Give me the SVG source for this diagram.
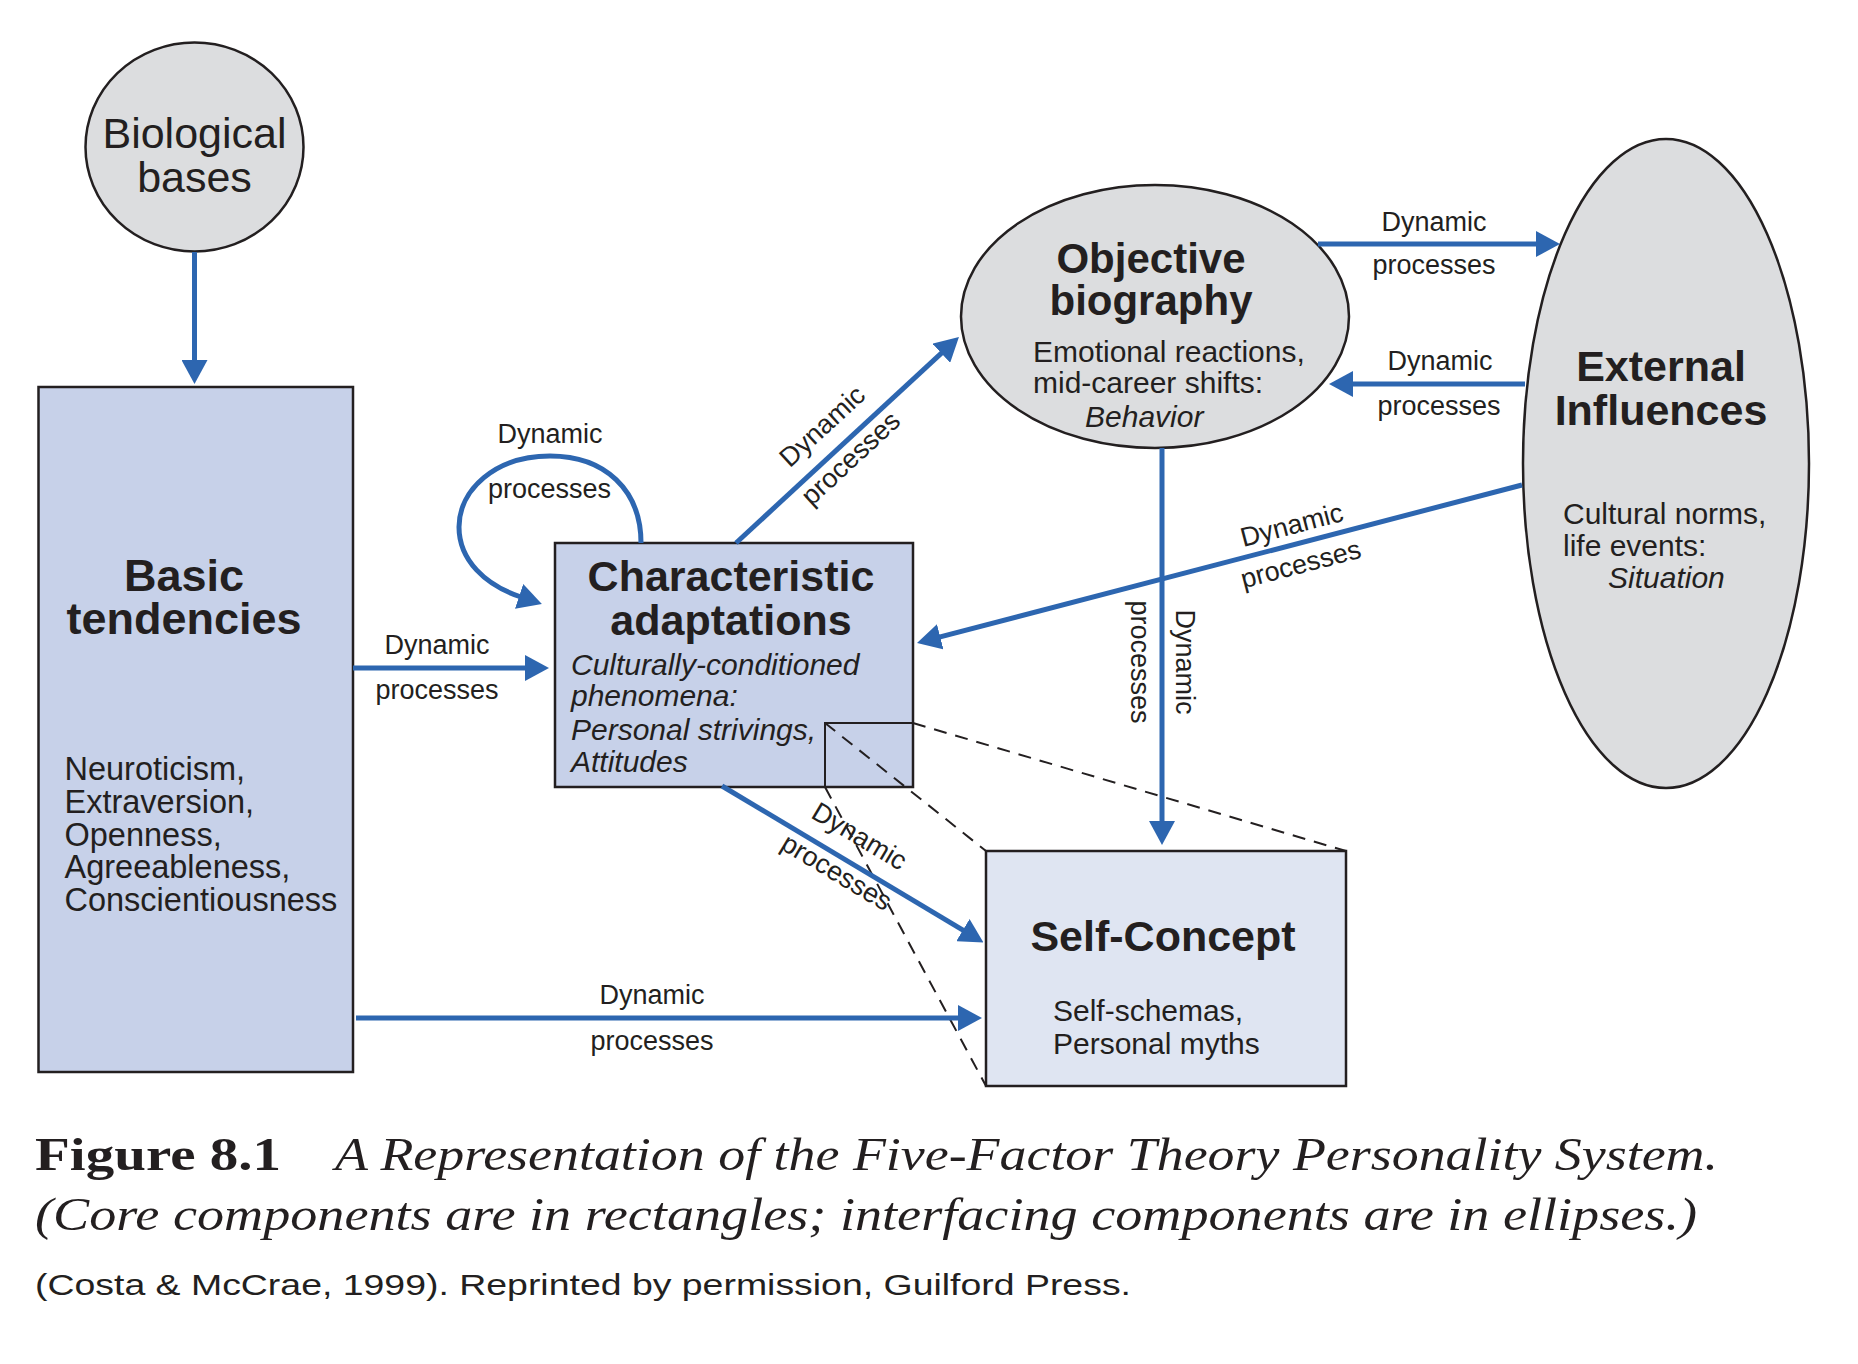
<svg xmlns="http://www.w3.org/2000/svg" width="1858" height="1364" viewBox="0 0 1858 1364">
<defs>
<marker id="ah" markerUnits="userSpaceOnUse" markerWidth="24" markerHeight="26" viewBox="0 0 24 26" refX="2" refY="13" orient="auto">
<path d="M0,0 L24,13 L0,26 Z" fill="#2d66b0"/>
</marker>
<style>
.conn{fill:none;stroke:#2d66b0;stroke-width:5;}
.arr{marker-end:url(#ah);}
.dash{fill:none;stroke:#231f20;stroke-width:2;stroke-dasharray:13 9;}
.ell{fill:#dcdddf;stroke:#231f20;stroke-width:2.5;}
.core{fill:#c7d1e9;stroke:#231f20;stroke-width:2.5;}
.self{fill:#dfe5f2;stroke:#231f20;stroke-width:2.5;}
text{font-family:"Liberation Sans",Arial,sans-serif;fill:#231f20;}
.title{font-weight:bold;text-anchor:middle;}
.lbl{font-size:27px;text-anchor:middle;}
.body{font-size:30px;}
.it{font-style:italic;}
.cap{font-family:"Liberation Serif","Times New Roman",serif;font-size:46px;}
</style>
</defs>
<rect width="1858" height="1364" fill="#ffffff"/>

<g id="biological-bases">
<ellipse class="ell" cx="194.5" cy="147" rx="109" ry="104.5"/>
<text class="title" style="font-weight:normal;font-size:43px"><tspan x="194.5" y="148">Biological</tspan><tspan x="194.5" y="192">bases</tspan></text>
</g>

<g id="basic-tendencies">
<rect class="core" x="38.5" y="387" width="314.5" height="685"/>
<text class="title" font-size="45"><tspan x="184" y="591">Basic</tspan><tspan x="184" y="634">tendencies</tspan></text>
<text font-size="32.5"><tspan x="64.5" y="780">Neuroticism,</tspan><tspan x="64.5" y="813">Extraversion,</tspan><tspan x="64.5" y="846">Openness,</tspan><tspan x="64.5" y="878">Agreeableness,</tspan><tspan x="64.5" y="911">Conscientiousness</tspan></text>
</g>

<g id="characteristic-adaptations">
<rect class="core" x="555" y="543" width="358" height="244"/>
<text class="title" font-size="43"><tspan x="731" y="591">Characteristic</tspan><tspan x="731" y="635">adaptations</tspan></text>
<text class="body it"><tspan x="571" y="675">Culturally-conditioned</tspan><tspan x="571" y="706">phenomena:</tspan><tspan x="571" y="740">Personal strivings,</tspan><tspan x="571" y="772">Attitudes</tspan></text>
<rect x="825" y="723" width="88" height="64" fill="none" stroke="#231f20" stroke-width="2"/>
</g>

<g id="objective-biography">
<ellipse class="ell" cx="1155" cy="316.5" rx="194" ry="131.5"/>
<text class="title" font-size="42"><tspan x="1151" y="273">Objective</tspan><tspan x="1151" y="315">biography</tspan></text>
<text class="body"><tspan x="1033" y="362">Emotional reactions,</tspan><tspan x="1033" y="393">mid-career shifts:</tspan><tspan class="it" x="1085" y="427">Behavior</tspan></text>
</g>

<g id="external-influences">
<ellipse class="ell" cx="1666" cy="463.5" rx="143" ry="324.5"/>
<text class="title" font-size="43"><tspan x="1661" y="381">External</tspan><tspan x="1661" y="425">Influences</tspan></text>
<text class="body" font-size="31"><tspan x="1563" y="524">Cultural norms,</tspan><tspan x="1563" y="556">life events:</tspan><tspan class="it" x="1608" y="588">Situation</tspan></text>
</g>

<g id="self-concept">
<rect class="self" x="986" y="851" width="360" height="235"/>
<text class="title" x="1163" y="951" font-size="43">Self-Concept</text>
<text class="body"><tspan x="1053" y="1021">Self-schemas,</tspan><tspan x="1053" y="1054">Personal myths</tspan></text>
</g>

<g id="connectors">
<line class="dash" x1="825" y1="723" x2="986" y2="851"/>
<line class="dash" x1="913" y1="723" x2="1346" y2="851"/>
<line class="dash" x1="825" y1="787" x2="986" y2="1086"/>

<path class="conn arr" d="M194.5,252 L194.5,362"/>
<path class="conn arr" d="M353,668 L527,668"/>
<path class="conn arr" d="M641,543 C641,490 605,456 550,456 C495,456 459,490 459,527 C459,560 485,585 521,597"/>
<path class="conn arr" d="M736,543 L942.8,351.9"/>
<path class="conn arr" d="M1318,244 L1538,244"/>
<path class="conn arr" d="M1525,384 L1351,384"/>
<path class="conn arr" d="M1522,485 L938.3,637.4"/>
<path class="conn arr" d="M1162,448 L1162,823"/>
<path class="conn arr" d="M722,786 L964.6,931.2"/>
<path class="conn arr" d="M356,1018 L960,1018"/>

<text class="lbl" x="437" y="654">Dynamic</text>
<text class="lbl" x="437" y="699">processes</text>

<text class="lbl" x="550" y="443">Dynamic</text>
<text class="lbl" x="549.5" y="498">processes</text>

<text class="lbl" transform="translate(823,427) rotate(-42.7)" x="0" y="8">Dynamic</text>
<text class="lbl" transform="translate(854,462) rotate(-42.7)" x="0" y="4">processes</text>

<text class="lbl" x="1434" y="231">Dynamic</text>
<text class="lbl" x="1434" y="274">processes</text>

<text class="lbl" x="1440" y="370">Dynamic</text>
<text class="lbl" x="1439" y="415">processes</text>

<text class="lbl" transform="translate(1292,526) rotate(-14.6)" x="0" y="8">Dynamic</text>
<text class="lbl" transform="translate(1302,569) rotate(-14.6)" x="0" y="4">processes</text>

<text class="lbl" transform="translate(1184,662) rotate(90)" x="0" y="8">Dynamic</text>
<text class="lbl" transform="translate(1135,662) rotate(90)" x="0" y="4">processes</text>

<text class="lbl" transform="translate(859,837) rotate(30.9)" x="0" y="8">Dynamic</text>
<text class="lbl" transform="translate(834,876.5) rotate(30.9)" x="0" y="4">processes</text>

<text class="lbl" x="652" y="1004">Dynamic</text>
<text class="lbl" x="652" y="1050">processes</text>
</g>

<g id="caption">
<text class="cap" x="35" y="1170" font-weight="bold" textLength="246" lengthAdjust="spacingAndGlyphs">Figure 8.1</text>
<text class="cap it" x="335" y="1170" textLength="1383" lengthAdjust="spacingAndGlyphs">A Representation of the Five-Factor Theory Personality System.</text>
<text class="cap it" x="35" y="1230" textLength="1662" lengthAdjust="spacingAndGlyphs">(Core components are in rectangles; interfacing components are in ellipses.)</text>
<text x="35" y="1295" font-size="30" textLength="1096" lengthAdjust="spacingAndGlyphs">(Costa &amp; McCrae, 1999). Reprinted by permission, Guilford Press.</text>
</g>
</svg>
